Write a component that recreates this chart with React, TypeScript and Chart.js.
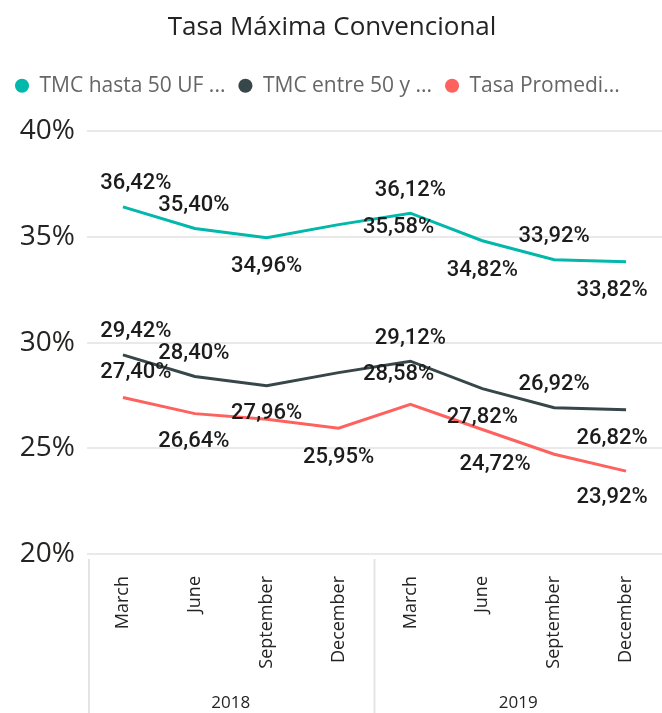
import React, { useEffect, useRef } from "react";
import { Chart, registerables } from "chart.js";

Chart.register(...registerables);

const TITLE = "Tasa Máxima Convencional";
const months = ["March", "June", "September", "December", "March", "June", "September", "December"];
const years = ["2018", "2019"];
const seriesNames = ["TMC hasta 50 UF ...", "TMC entre 50 y ...", "Tasa Promedi..."];
const tmcHasta50 = [36.42, 35.4, 34.96, 35.58, 36.12, 34.82, 33.92, 33.82];
const tmcEntre50 = [29.42, 28.4, 27.96, 28.58, 29.12, 27.82, 26.92, 26.82];
const tasaPromedio = [27.4, 26.64, 26.37, 25.95, 27.08, 25.89, 24.72, 23.92];
const yMin = 20;
const yMax = 40;
const yStep = 5;

const colors = ["#01B8AA", "#374649", "#FD625E"];

// label offsets (dx, dy) relative to each point; null = no label
const labelPlacements: ([number, number] | null)[][] = [
  [[13, -23], [-1, -23], [0, 29], [60, 3], [0, -23], [0, 30], [0, -23], [-14, 29]],
  [[13, -23], [-1, -23], [0, 28], [60, 2], [0, -23], [0, 29], [0, -23], [-14, 29]],
  [[13, -25], [-1, 28], null, [0, 29], null, null, [-59, 10], [-14, 26]],
];

const fmt = (v: number) => v.toFixed(2).replace(".", ",") + "%";

const pointLabelPlugin = {
  id: "pointLabels",
  afterDatasetsDraw(chart: any) {
    const ctx = chart.ctx;
    ctx.save();
    ctx.font = "500 22px Roboto";
    ctx.fillStyle = "#1c1c1c";
    ctx.textAlign = "center";
    ctx.textBaseline = "middle";
    chart.data.datasets.forEach((ds: any, di: number) => {
      const meta = chart.getDatasetMeta(di);
      meta.data.forEach((pt: any, i: number) => {
        const p = labelPlacements[di][i];
        if (!p) return;
        ctx.fillText(fmt(ds.data[i]), pt.x + p[0], pt.y + p[1]);
      });
    });
    ctx.restore();
  },
};

const separatorPlugin = {
  id: "groupSeparators",
  afterDraw(chart: any) {
    const ctx = chart.ctx;
    const xs = chart.scales.x;
    const area = chart.chartArea;
    const mid = (xs.getPixelForValue(3) + xs.getPixelForValue(4)) / 2;
    ctx.save();
    ctx.strokeStyle = "#e4e4e4";
    ctx.lineWidth = 2;
    [area.left + 2, mid].forEach((x) => {
      ctx.beginPath();
      ctx.moveTo(x, area.bottom + 5);
      ctx.lineTo(x, chart.height);
      ctx.stroke();
    });
    ctx.restore();
  },
};

export default function App() {
  const ref = useRef<HTMLCanvasElement | null>(null);

  useEffect(() => {
    document.body.style.margin = "0";
    document.body.style.background = "#ffffff";
    if (!ref.current) return;
    const data = [tmcHasta50, tmcEntre50, tasaPromedio];
    const chart = new Chart(ref.current, {
      type: "line",
      data: {
        labels: months,
        datasets: data.map((d, i) => ({
          label: seriesNames[i],
          data: d,
          xAxisID: "x",
          yAxisID: "y",
          borderColor: colors[i],
          backgroundColor: colors[i],
          borderWidth: 3,
          pointRadius: 0,
          pointHoverRadius: 0,
          tension: 0,
          fill: false,
        })),
      },
      options: {
        animation: false,
        responsive: true,
        maintainAspectRatio: false,
        layout: { padding: { left: 2, right: 0, top: 0, bottom: 0 } },
        plugins: {
          title: {
            display: true,
            text: TITLE,
            color: "#252423",
            font: { family: "Open Sans", size: 26, weight: "normal" },
            padding: { top: 12, bottom: 19 },
          },
          legend: {
            display: true,
            position: "top",
            align: "start",
            labels: {
              usePointStyle: true,
              pointStyle: "circle",
              boxWidth: 14,
              boxHeight: 10,
              padding: 13,
              color: "#666666",
              font: { family: "Open Sans", size: 21 },
              generateLabels: (c: any) =>
                Chart.defaults.plugins.legend.labels.generateLabels(c).map((l: any) => ({ ...l, lineWidth: 0 })),
            },
          },
          tooltip: { enabled: false },
        },
        scales: {
          x: {
            type: "category",
            offset: true,
            weight: 0,
            grid: { display: false },
            border: { display: false },
            ticks: {
              minRotation: 90,
              maxRotation: 90,
              autoSkip: false,
              padding: 14,
              color: "#252423",
              font: { family: "Open Sans", size: 18 },
            },
            afterFit: (s: any) => {
              s.height = 130;
            },
          },
          xTop: {
            type: "category",
            position: "top",
            labels: years,
            grid: { display: false },
            border: { display: false },
            ticks: { display: false },
            afterFit: (s: any) => {
              s.height = 25;
            },
          },
          x2: {
            type: "category",
            position: "bottom",
            labels: years,
            offset: true,
            weight: 1,
            grid: { display: false },
            border: { display: false },
            ticks: {
              padding: 1,
              color: "#252423",
              font: { family: "Open Sans", size: 17 },
            },
            afterFit: (s: any) => {
              s.height = 29;
            },
          },
          y: {
            min: yMin,
            max: yMax,
            grid: { color: "#e9e9e9", lineWidth: 2, drawTicks: false },
            border: { display: false },
            ticks: {
              stepSize: yStep,
              padding: 12,
              color: "#252423",
              font: { family: "Open Sans", size: 28 },
              callback: (v: any) => v + "%",
            },
            afterFit: (s: any) => {
              s.width = 85;
            },
          },
        },
      },
      plugins: [pointLabelPlugin, separatorPlugin],
    } as any);
    return () => chart.destroy();
  }, []);

  return (
    <div style={{ width: 662, height: 713, position: "relative", background: "#fff" }}>
      <canvas ref={ref} />
    </div>
  );
}
